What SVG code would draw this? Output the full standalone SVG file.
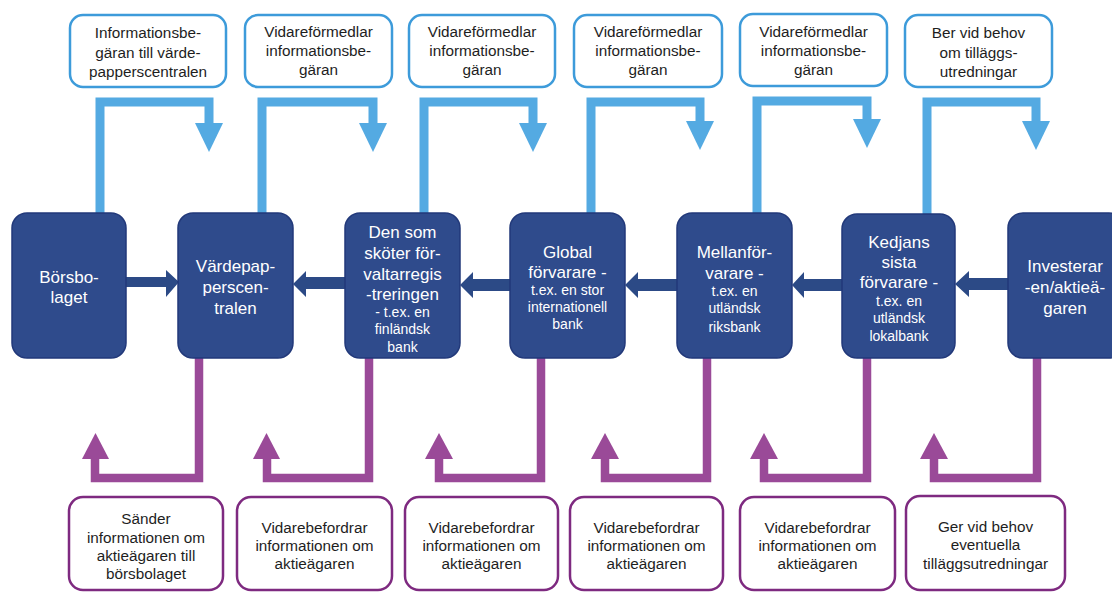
<svg xmlns="http://www.w3.org/2000/svg" width="1112" height="593" viewBox="0 0 1112 593">
<style>
.node{fill:#2F4B8C;stroke:#22397A;stroke-width:1.5}
.nt{fill:#FFFFFF;font-family:"Liberation Sans",Arial,sans-serif;font-size:17px;text-anchor:middle}
.ns{fill:#FFFFFF;font-family:"Liberation Sans",Arial,sans-serif;font-size:14px;text-anchor:middle}
.tbox{fill:#FFFFFF;stroke:#3D9BDA;stroke-width:2.5}
.bbox{fill:#FFFFFF;stroke:#7E2A80;stroke-width:2.5}
.bt{fill:#1E1E1E;font-family:"Liberation Sans",Arial,sans-serif;font-size:15.3px;text-anchor:middle}
.blue{fill:none;stroke:#54AAE2;stroke-width:9;stroke-linejoin:miter}
.bluehead{fill:#54AAE2}
.purp{fill:none;stroke:#9A4A98;stroke-width:8.5;stroke-linejoin:miter}
.purphead{fill:#9A4A98}
.dk{fill:#2C4A86}
</style>

<g id="connectors">
  <!-- blue request arrows -->
  <path class="blue" d="M100,214 V102 H209 V124"/><polygon class="bluehead" points="195,123 223,123 209,152"/>
  <path class="blue" d="M262,214 V102 H373 V124"/><polygon class="bluehead" points="359,123 387,123 373,152"/>
  <path class="blue" d="M424,214 V102 H533 V124"/><polygon class="bluehead" points="519,123 547,123 533,152"/>
  <path class="blue" d="M591,214 V102 H700 V122"/><polygon class="bluehead" points="686,121 714,121 700,150"/>
  <path class="blue" d="M757,214 V101 H867 V120"/><polygon class="bluehead" points="853,119 881,119 867,148"/>
  <path class="blue" d="M927,214 V102 H1036 V122"/><polygon class="bluehead" points="1022,121 1050,121 1036,150"/>
  <!-- purple response arrows -->
  <path class="purp" d="M199,357 V478 H95 V458"/><polygon class="purphead" points="82,459 109,459 95.5,433"/>
  <path class="purp" d="M369,357 V478 H267 V458"/><polygon class="purphead" points="253,459 280,459 266.5,433"/>
  <path class="purp" d="M541,357 V478 H439 V458"/><polygon class="purphead" points="425,459 453,459 439,433"/>
  <path class="purp" d="M707,357 V478 H605 V458"/><polygon class="purphead" points="591,459 619,459 605,433"/>
  <path class="purp" d="M867,357 V478 H764 V458"/><polygon class="purphead" points="750,459 778,459 764,433"/>
  <path class="purp" d="M1037,357 V478 H934 V458"/><polygon class="purphead" points="920,459 948,459 934,433"/>
  <!-- horizontal dark arrows -->
  <polygon class="dk" points="126,277 166,277 166,270 179,282 166,297 166,287 126,287"/>
  <polygon class="dk" points="345,277 306,277 306,271 293,284 306,297 306,289 345,289"/>
  <polygon class="dk" points="510,279 473,279 473,272 460,285 473,298 473,291 510,291"/>
  <polygon class="dk" points="677,279 638,279 638,272 625,285 638,298 638,291 677,291"/>
  <polygon class="dk" points="842,279 804,279 804,272 792,285 804,298 804,291 842,291"/>
  <polygon class="dk" points="1008,278 969,278 969,271 955,284 969,297 969,290 1008,290"/>
</g>

<g id="n-borsbolaget">
  <rect class="node" x="12" y="213" width="114" height="145" rx="15"/>
  <text class="nt" x="69" y="283">Börsbo-</text>
  <text class="nt" x="69" y="303">laget</text>
</g>
<g id="n-vardepapperscentralen">
  <rect class="node" x="178" y="213" width="115" height="145" rx="15"/>
  <text class="nt" x="235.5" y="272">Värdepap-</text>
  <text class="nt" x="235.5" y="293">perscen-</text>
  <text class="nt" x="235.5" y="314">tralen</text>
</g>
<g id="n-forvaltarregistrering">
  <rect class="node" x="345" y="213" width="115" height="145" rx="15"/>
  <text class="nt" x="402.5" y="238">Den som</text>
  <text class="nt" x="402.5" y="259">sköter för-</text>
  <text class="nt" x="402.5" y="280">valtarregis</text>
  <text class="nt" x="402.5" y="300">-treringen</text>
  <text class="ns" x="402.5" y="317">- t.ex. en</text>
  <text class="ns" x="402.5" y="334">finländsk</text>
  <text class="ns" x="402.5" y="352">bank</text>
</g>
<g id="n-global">
  <rect class="node" x="510" y="213" width="115" height="145" rx="15"/>
  <text class="nt" x="567.5" y="258">Global</text>
  <text class="nt" x="567.5" y="278">förvarare -</text>
  <text class="ns" x="567.5" y="295">t.ex. en stor</text>
  <text class="ns" x="567.5" y="312">internationell</text>
  <text class="ns" x="567.5" y="329">bank</text>
</g>
<g id="n-mellanforvarare">
  <rect class="node" x="677" y="213" width="115" height="145" rx="15"/>
  <text class="nt" x="734.5" y="258">Mellanför-</text>
  <text class="nt" x="734.5" y="279">varare -</text>
  <text class="ns" x="734.5" y="296">t.ex. en</text>
  <text class="ns" x="734.5" y="313">utländsk</text>
  <text class="ns" x="734.5" y="332">riksbank</text>
</g>
<g id="n-kedjans">
  <rect class="node" x="842" y="214" width="113" height="144" rx="15"/>
  <text class="nt" x="899" y="248">Kedjans</text>
  <text class="nt" x="899" y="268">sista</text>
  <text class="nt" x="899" y="288">förvarare -</text>
  <text class="ns" x="899" y="306">t.ex. en</text>
  <text class="ns" x="899" y="323">utländsk</text>
  <text class="ns" x="899" y="341">lokalbank</text>
</g>
<g id="n-investerare">
  <rect class="node" x="1008" y="213" width="116" height="145" rx="15"/>
  <text class="nt" x="1065" y="272">Investerar</text>
  <text class="nt" x="1065" y="293">-en/aktieä-</text>
  <text class="nt" x="1065" y="314">garen</text>
</g>

<g id="t1">
  <rect class="tbox" x="70" y="15" width="156" height="72" rx="13"/>
  <text class="bt" x="148" y="38">Informationsbe-</text>
  <text class="bt" x="148" y="58">gäran till värde-</text>
  <text class="bt" x="148" y="77">papperscentralen</text>
</g>
<g id="t2">
  <rect class="tbox" x="245" y="15" width="147" height="72" rx="13"/>
  <text class="bt" x="318.5" y="37">Vidareförmedlar</text>
  <text class="bt" x="318.5" y="56">informationsbe-</text>
  <text class="bt" x="318.5" y="75">gäran</text>
</g>
<g id="t3">
  <rect class="tbox" x="409" y="15" width="146" height="72" rx="13"/>
  <text class="bt" x="482" y="37">Vidareförmedlar</text>
  <text class="bt" x="482" y="56">informationsbe-</text>
  <text class="bt" x="482" y="75">gäran</text>
</g>
<g id="t4">
  <rect class="tbox" x="574" y="15" width="148" height="72" rx="13"/>
  <text class="bt" x="648" y="37">Vidareförmedlar</text>
  <text class="bt" x="648" y="56">informationsbe-</text>
  <text class="bt" x="648" y="75">gäran</text>
</g>
<g id="t5">
  <rect class="tbox" x="740" y="14" width="147" height="72" rx="13"/>
  <text class="bt" x="813.5" y="37">Vidareförmedlar</text>
  <text class="bt" x="813.5" y="56">informationsbe-</text>
  <text class="bt" x="813.5" y="75">gäran</text>
</g>
<g id="t6">
  <rect class="tbox" x="905" y="15" width="147" height="72" rx="13"/>
  <text class="bt" x="978.5" y="38">Ber vid behov</text>
  <text class="bt" x="978.5" y="58">om tilläggs-</text>
  <text class="bt" x="978.5" y="77">utredningar</text>
</g>

<g id="b1">
  <rect class="bbox" x="69" y="497" width="154" height="93" rx="14"/>
  <text class="bt" x="146" y="524">Sänder</text>
  <text class="bt" x="146" y="543">informationen om</text>
  <text class="bt" x="146" y="561">aktieägaren till</text>
  <text class="bt" x="146" y="579">börsbolaget</text>
</g>
<g id="b2">
  <rect class="bbox" x="237" y="497" width="155" height="93" rx="14"/>
  <text class="bt" x="314.5" y="533">Vidarebefordrar</text>
  <text class="bt" x="314.5" y="551">informationen om</text>
  <text class="bt" x="314.5" y="569">aktieägaren</text>
</g>
<g id="b3">
  <rect class="bbox" x="405" y="497" width="153" height="93" rx="14"/>
  <text class="bt" x="481.5" y="533">Vidarebefordrar</text>
  <text class="bt" x="481.5" y="551">informationen om</text>
  <text class="bt" x="481.5" y="569">aktieägaren</text>
</g>
<g id="b4">
  <rect class="bbox" x="570" y="497" width="153" height="93" rx="14"/>
  <text class="bt" x="646.5" y="533">Vidarebefordrar</text>
  <text class="bt" x="646.5" y="551">informationen om</text>
  <text class="bt" x="646.5" y="569">aktieägaren</text>
</g>
<g id="b5">
  <rect class="bbox" x="740" y="497" width="155" height="93" rx="14"/>
  <text class="bt" x="817.5" y="533">Vidarebefordrar</text>
  <text class="bt" x="817.5" y="551">informationen om</text>
  <text class="bt" x="817.5" y="569">aktieägaren</text>
</g>
<g id="b6">
  <rect class="bbox" x="906" y="496" width="159" height="94" rx="14"/>
  <text class="bt" x="985.5" y="532">Ger vid behov</text>
  <text class="bt" x="985.5" y="550">eventuella</text>
  <text class="bt" x="985.5" y="569">tilläggsutredningar</text>
</g>
</svg>
